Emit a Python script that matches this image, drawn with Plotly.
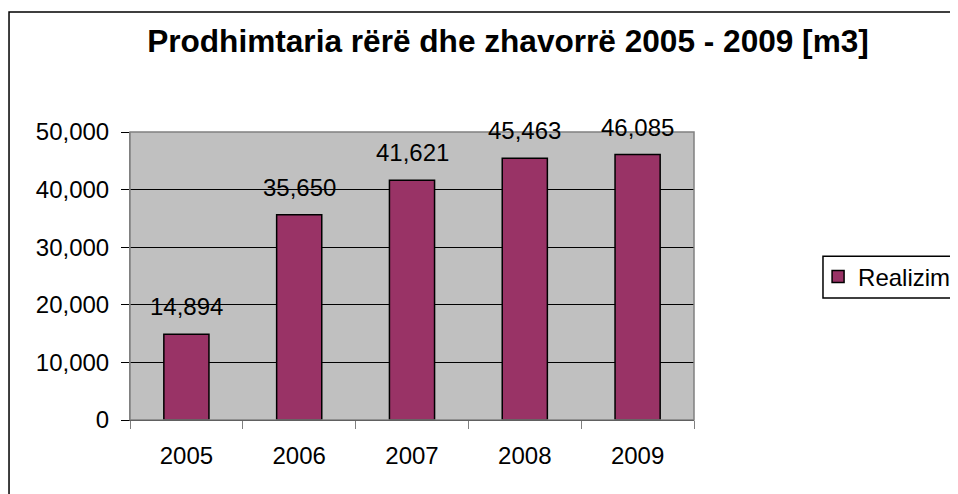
import plotly.graph_objects as go

# data
years = ["2005", "2006", "2007", "2008", "2009"]
realizim = [14894, 35650, 41621, 45463, 46085]
series_name = "Realizim"
title_text = "Prodhimtaria rërë dhe zhavorrë 2005 - 2009 [m3]"

font_family = "Arial, Liberation Sans, sans-serif"

fig = go.Figure()
fig.add_trace(go.Bar(
    x=years, y=realizim, name=series_name,
    marker=dict(color="#993366", line=dict(color="black", width=1.5)),
    width=0.4, showlegend=True,
))

# value labels above the bars (x given as category index)
for i, v in enumerate(realizim):
    fig.add_annotation(x=i, y=v, text=f"{v:,}", showarrow=False,
                       xref="x", yref="y", yanchor="bottom", yshift=12,
                       font=dict(size=24, color="black", family=font_family))

# page has an 8px body margin, so the figure is drawn 8px smaller
fig.update_layout(
    width=950, height=486,
    margin=dict(l=122, r=264, t=124, b=74, autoexpand=False),
    paper_bgcolor="white", plot_bgcolor="#c0c0c0",
    font=dict(family=font_family, size=24, color="black"),
    title=dict(text="<b>" + title_text + "</b>", xref="container", yref="container",
               x=0.5263, y=0.933, xanchor="center", yanchor="middle",
               font=dict(size=31.6, color="black")),
    legend=dict(x=1.22, y=0.4965, xanchor="left", yanchor="middle",
                bgcolor="rgba(0,0,0,0)", borderwidth=0,
                font=dict(size=24)),
)

fig.update_yaxes(range=[0, 50000], tickvals=[0, 10000, 20000, 30000, 40000, 50000],
                 tickformat=",", showgrid=True, gridcolor="black", gridwidth=1,
                 ticks="outside", ticklen=8, tickcolor="black",
                 showline=True, linecolor="#808080", linewidth=1,
                 zeroline=False, automargin=False, ticklabelstandoff=7)
fig.update_xaxes(type="category", range=[-0.5, 4.5], tickson="boundaries",
                 ticks="outside", ticklen=8, tickcolor="#808080", tickangle=0,
                 showline=True, linecolor="black", linewidth=1,
                 showgrid=False, automargin=False, ticklabelstandoff=14)

# plot area border
fig.add_shape(type="rect", xref="paper", yref="paper", x0=0, x1=1, y0=0, y1=1,
              line=dict(color="#808080", width=1.5), layer="above")
# legend box (runs off the right edge like the reference)
fig.add_shape(type="rect", xref="paper", yref="paper", x0=1.2287, x1=1.5, y0=0.4236, y1=0.569,
              line=dict(color="black", width=1.5))
# chart border
fig.add_shape(type="rect", xref="paper", yref="paper", x0=-0.2145, x1=1.6, y0=-0.5, y1=1.4167,
              line=dict(color="black", width=1.5))

fig.write_html("out.html")
